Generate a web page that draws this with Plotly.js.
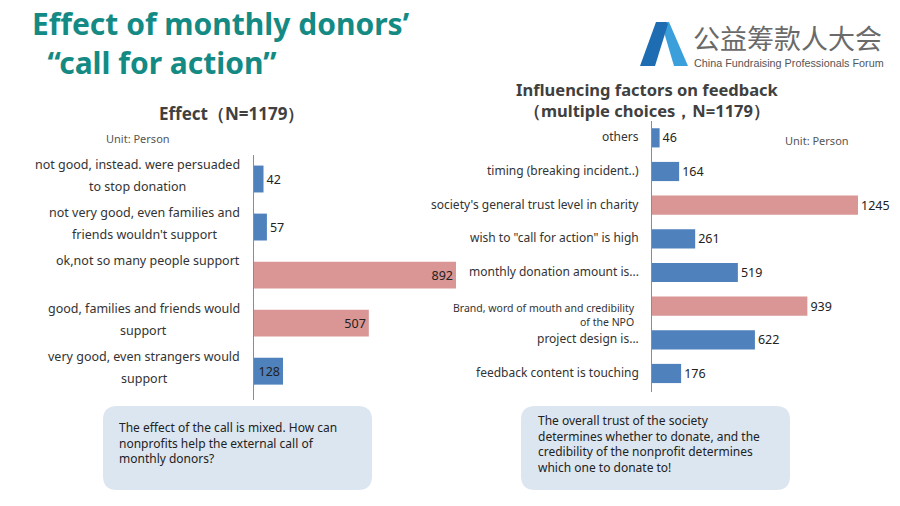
<!DOCTYPE html>
<html><head><meta charset="utf-8">
<script src="https://cdn.plot.ly/plotly-3.0.1.min.js"></script>
<style>html,body{margin:0;padding:0;background:#fff}#chart{width:900px;height:506px}</style>
</head><body><div id="chart"></div>
<script>
// ---- data ----
const effectCategories = [
  "not good, instead. were persuaded<br>to stop donation",
  "not very good, even families and<br>friends wouldn't support",
  "ok,not so many people support<br>",
  "good, families and friends would<br>support",
  "very good, even strangers would<br>support"
];
const effectValues = [42, 57, 892, 507, 128];

const factorCategories = [
  "others",
  "timing (breaking incident..)",
  "society's general trust level in charity",
  "wish to \"call for action\" is high",
  "monthly donation amount is...",
  "Brand, word of mouth and credibility<br>of the NPO",
  "project design is...",
  "feedback content is touching"
];
const factorValues = [46, 164, 1245, 261, 519, 939, 622, 176];

const mainTitleLines = ["Effect of monthly donors\u2019", "\u00A0\u00A0\u201Ccall for action\u201D"];
const leftTitle = "Effect\uFF08N=1179\uFF09";
const rightTitleLines = ["Influencing factors on feedback", "\uFF08multiple choices\uFF0CN=1179\uFF09"];
const unitLabel = "Unit: Person";
const leftNote = "The effect of the call is mixed. How can<br>nonprofits help the external call of<br>monthly donors?";
const rightNote = "The overall trust of the society<br>determines whether to donate, and the<br>credibility of the nonprofit determines<br>which one to donate to!";
const logoCN = "\u516C\u76CA\u7B79\u6B3E\u4EBA\u5927\u4F1A";
const logoEN = "China Fundraising Professionals Forum";

// ---- helpers ----
const W = 900, H = 506;
const px = x => x / W;
const py = y => 1 - y / H;
const BLUE = "#4F81BD", PINK = "#D99694";
const FONT = "'Noto Sans', 'Open Sans', sans-serif";
function highlight(vals) {
  const s = [...vals].sort((a, b) => b - a);
  return vals.map(v => v >= s[1] ? PINK : BLUE);
}
const cv = document.createElement("canvas").getContext("2d");
function textW(t, size) { cv.font = size + "px 'Noto Sans'"; return cv.measureText(t).width; }
function rrect(x0, y0, x1, y1, r) {
  const rx = r / W, ry = r / H;
  const X0 = px(x0), X1 = px(x1), Y0 = py(y0), Y1 = py(y1);
  return `M ${X0 + rx},${Y0} L ${X1 - rx},${Y0} Q ${X1},${Y0} ${X1},${Y0 - ry} L ${X1},${Y1 + ry} Q ${X1},${Y1} ${X1 - rx},${Y1} L ${X0 + rx},${Y1} Q ${X0},${Y1} ${X0},${Y1 + ry} L ${X0},${Y0 - ry} Q ${X0},${Y0} ${X0 + rx},${Y0} Z`;
}
function poly(pts) { return "M " + pts.map(p => px(p[0]) + "," + py(p[1])).join(" L ") + " Z"; }

// ---- traces ----
const traces = [
  {
    type: "bar", orientation: "h", x: effectValues, y: effectCategories,
    xaxis: "x", yaxis: "y", width: 0.56,
    marker: { color: highlight(effectValues) },
    text: effectValues.map(String),
    textposition: effectValues.map(v => v < 100 ? "outside" : "inside"),
    insidetextanchor: "end", textangle: 0,
    textfont: { family: FONT, size: 12.5, color: "#222" },
    cliponaxis: false, hoverinfo: "none"
  },
  {
    type: "bar", orientation: "h", x: factorValues, y: factorCategories,
    xaxis: "x2", yaxis: "y2", width: 0.57,
    marker: { color: highlight(factorValues) },
    text: factorValues.map(String), textposition: "outside", textangle: 0,
    textfont: { family: FONT, size: 12.5, color: "#222" },
    cliponaxis: false, hoverinfo: "none"
  }
];

// ---- annotations ----
const ann = [];
ann.push({ xref: "paper", yref: "paper", x: px(30), y: py(43), xanchor: "left", yanchor: "middle", showarrow: false,
  align: "left", text: "<b>" + mainTitleLines.join("<br>") + "</b>", font: { family: FONT, size: 30, color: "#148A84" } });
ann.push({ xref: "paper", yref: "paper", x: px(231), y: py(113), xanchor: "center", yanchor: "middle", showarrow: false,
  text: "<b>" + leftTitle + "</b>", font: { family: FONT, size: 17, color: "#404040" } });
ann.push({ xref: "paper", yref: "paper", x: px(647), y: py(100), xanchor: "center", yanchor: "middle", showarrow: false,
  text: "<b>" + rightTitleLines.join("<br>") + "</b>", font: { family: FONT, size: 16.5, color: "#404040" } });
ann.push({ xref: "paper", yref: "paper", x: px(104), y: py(138), xanchor: "left", yanchor: "middle", showarrow: false,
  text: unitLabel, font: { family: FONT, size: 11, color: "#555" } });
ann.push({ xref: "paper", yref: "paper", x: px(783), y: py(141), xanchor: "left", yanchor: "middle", showarrow: false,
  text: unitLabel, font: { family: FONT, size: 11, color: "#555" } });

// left category labels (centered lines, right edge at 240px)
effectCategories.forEach(c => {
  const lines = c.split("<br>");
  const n = lines.length;
  const maxW = Math.max(...lines.map(l => textW(l, 12.5)));
  const cx = 240 - maxW / 2;
  lines.forEach((l, i) => {
    if (!l) return;
    ann.push({ xref: "paper", yref: "y", x: px(cx), y: c, xanchor: "center", yanchor: "middle", showarrow: false,
      yshift: ((n - 1) / 2 - i) * 22 + 4, text: l, font: { family: FONT, size: 12.5, color: "#333" } });
  });
});
// right category labels
factorCategories.forEach(c => {
  const multi = c.includes("<br>");
  ann.push({ xref: "paper", yref: "y2", x: px(multi ? 637 : 641), y: c, xanchor: "right", yanchor: "middle", showarrow: false,
    yshift: multi ? -9 : 1, align: "right", text: c,
    font: { family: FONT, size: multi ? 10.5 : 12, color: "#333" } });
});
// notes
ann.push({ xref: "paper", yref: "paper", x: px(117), y: py(443), xanchor: "left", yanchor: "middle", showarrow: false,
  align: "left", text: leftNote, font: { family: FONT, size: 12, color: "#222" } });
ann.push({ xref: "paper", yref: "paper", x: px(536), y: py(443.5), xanchor: "left", yanchor: "middle", showarrow: false,
  align: "left", text: rightNote, font: { family: FONT, size: 12, color: "#222" } });
// logo text
ann.push({ xref: "paper", yref: "paper", x: px(691), y: py(37), xanchor: "left", yanchor: "middle", showarrow: false,
  text: logoCN, font: { family: "'Noto Sans CJK SC'", size: 27, color: "#6a6a6a" } });
ann.push({ xref: "paper", yref: "paper", x: px(692), y: py(63), xanchor: "left", yanchor: "middle", showarrow: false,
  text: logoEN, font: { family: "'Liberation Sans', Arial, sans-serif", size: 10.8, color: "#555" } });

// ---- shapes ----
const shapes = [
  { type: "path", xref: "paper", yref: "paper", path: rrect(103, 406, 372, 490, 14), fillcolor: "#DCE6F0", line: { width: 0 }, layer: "below" },
  { type: "path", xref: "paper", yref: "paper", path: rrect(521, 406, 790, 490, 14), fillcolor: "#DCE6F0", line: { width: 0 }, layer: "below" },
  { type: "path", xref: "paper", yref: "paper", path: poly([[661, 22], [669, 22], [688, 66], [674, 66]]), fillcolor: "#3A9FDB", line: { width: 0 } },
  { type: "path", xref: "paper", yref: "paper", path: poly([[640, 66], [655, 66], [668, 24], [666, 22], [656, 22]]), fillcolor: "#1E6DB2", line: { width: 0 } }
];

const axCommon = { showgrid: false, zeroline: false, fixedrange: true };
const layout = {
  width: W, height: H, margin: { l: 0, r: 0, t: 0, b: 0 },
  paper_bgcolor: "#fff", plot_bgcolor: "rgba(0,0,0,0)",
  showlegend: false, font: { family: FONT },
  xaxis: Object.assign({}, axCommon, { domain: [px(254), px(456)], range: [0, 892], visible: false, anchor: "y" }),
  yaxis: Object.assign({}, axCommon, { domain: [py(400), py(155)], type: "category", range: [4.6, -0.5], autorange: false,
    showline: true, linecolor: "#8c8c8c", linewidth: 1, showticklabels: false, ticks: "", anchor: "x" }),
  xaxis2: Object.assign({}, axCommon, { domain: [px(652), px(858)], range: [0, 1245], visible: false, anchor: "y2" }),
  yaxis2: Object.assign({}, axCommon, { domain: [py(392), py(121)], type: "category", range: [7.55, -0.5], autorange: false,
    showline: true, linecolor: "#8c8c8c", linewidth: 1, showticklabels: false, ticks: "", anchor: "x2" }),
  annotations: ann, shapes: shapes
};
Plotly.newPlot("chart", traces, layout, { staticPlot: true, displayModeBar: false });
</script></body></html>
